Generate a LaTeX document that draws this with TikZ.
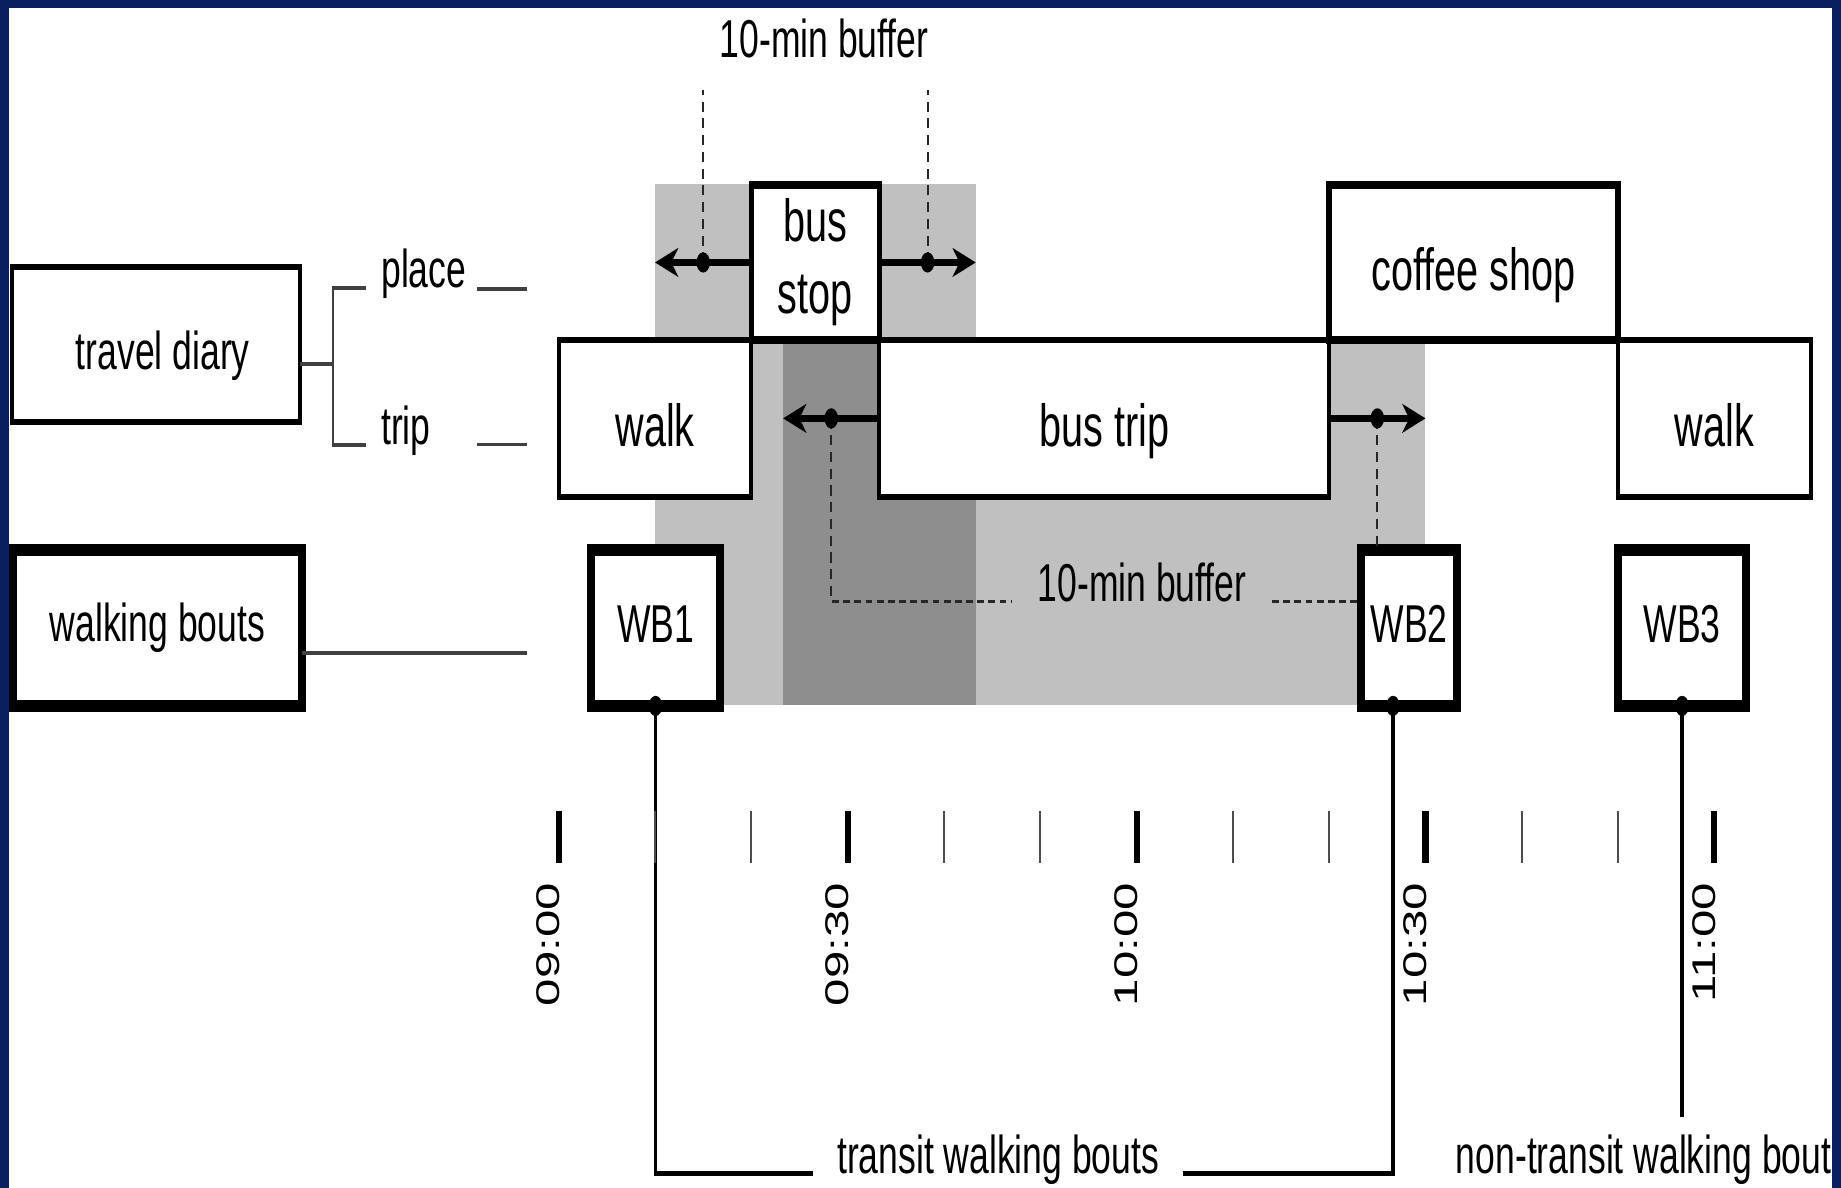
\documentclass[tikz,border=0pt]{standalone}
\usepackage{fontspec}
\setmainfont{Liberation Sans}
\usetikzlibrary{arrows.meta,calc}

\definecolor{framenavy}{RGB}{10,31,96}
\definecolor{buflight}{RGB}{192,192,192}
\definecolor{bufdark}{RGB}{142,142,142}

\tikzset{
  lbl/.style={font=\fontsize{10.5}{12.6}\selectfont},
  rowbox/.style={draw,fill=white,inner sep=0pt,outer sep=0pt,
    font=\fontsize{11.7}{14.2}\selectfont,align=center},
  lowtext/.style={text height=10.9pt,text depth=0pt},
  tripbox/.style={rowbox,line width=1.2pt,minimum height=1.0867cm,lowtext},
  placebox/.style={rowbox,line width=1.6pt,minimum height=1.0727cm},
  diarybox/.style={draw,fill=white,line width=1.3pt,inner sep=0pt,outer sep=0pt,
    minimum height=1.0733cm,minimum width=2.99cm,lbl,text height=10pt,text depth=0pt},
  boutbox/.style={draw,fill=white,line width=2.5pt,inner sep=0pt,outer sep=0pt,
    minimum height=1.08cm,lbl},
  wbtext/.style={text height=7.7pt,text depth=1.9pt},
  bufarrow/.style={line width=1.4pt,-{Stealth[length=6.8pt,width=5.6pt,inset=2pt]}},
  bufdash/.style={line width=0.6pt,dash pattern=on 2pt off 1.3pt,black!85},
  link/.style={line width=1pt},
  thinlink/.style={line width=0.7pt,black!75},
  timelbl/.style={font=\fontsize{9.7}{11}\selectfont,rotate=90,anchor=east,inner sep=0pt}
}

\begin{document}
\begin{tikzpicture}
  \useasboundingbox (0,0) rectangle (19.117,12.336);
  \fill[white] (0,0) rectangle (19.117,12.336);

  % whole diagram is stretched upwards, x: 1 unit = 10 min after 09:00
  \begin{scope}[transform canvas={yscale=1.5},shift={(5.802,0)},y=0.6667cm]

    % 10-min buffers
    \coordinate (buf1sw) at (1,5.016);
    \coordinate (buf1ne) at (4.33,10.42);
    \coordinate (buf2sw) at (2.33,5.016);
    \coordinate (buf2ne) at (9,8.806);
    \fill[buflight] (buf1sw) rectangle (buf1ne);
    \fill[buflight] (buf2sw) rectangle (buf2ne);
    \fill[bufdark] (buf2sw) rectangle (buf1ne |- buf2ne);

    % diary entries
    \node[tripbox,minimum width=2cm] (walkA) at (1,7.991) {walk};
    \node[placebox,minimum width=1.33cm] (busstop) at (2.665,9.61) {bus\\stop};
    \node[tripbox,minimum width=4.67cm] (bustrip) at (5.665,7.991) {bus trip};
    \node[placebox,lowtext,minimum width=3cm] (coffee) at (9.5,9.61) {coffee shop};
    \node[tripbox,minimum width=2cm] (walkB) at (12,7.991) {walk};

    % walking bouts
    \node[boutbox,wbtext,minimum width=1.34cm] (wb1) at (1.005,5.815) {WB1};
    \node[boutbox,wbtext,minimum width=1cm] (wb2) at (8.83,5.815) {WB2};
    \node[boutbox,wbtext,minimum width=1.33cm] (wb3) at (11.665,5.815) {WB3};

    % buffer arrows
    \draw[bufarrow] (busstop.west) -- coordinate (dotA) (busstop.west -| buf1sw);
    \draw[bufarrow] (busstop.east) -- coordinate (dotB) (busstop.east -| buf1ne);
    \draw[bufarrow] (bustrip.west) -- coordinate (dotC) (bustrip.west -| buf2sw);
    \draw[bufarrow] (bustrip.east) -- coordinate (dotD) (bustrip.east -| buf2ne);

    \node[lbl,inner ysep=0.21cm] (topbuf) at (2.755,11.931) {10-min buffer};
    \draw[bufdash] (dotA) -- (dotA |- topbuf.south);
    \draw[bufdash] (dotB) -- (dotB |- topbuf.south);

    \node[lbl,anchor=base,inner xsep=0.26cm] (midbuf) at (6.057,6.09) {10-min buffer};
    \draw[bufdash] (dotC) |- (midbuf.base west);
    \draw[bufdash] (midbuf.base east) -- (midbuf.base east -| wb2.west);
    \draw[bufdash] (dotD) -- (dotD |- wb2.north);

    \foreach \d in {dotA,dotB,dotC,dotD}
      \fill (\d) circle[radius=0.07cm];

    % transit / non-transit
    \node[lbl,anchor=base,inner xsep=0.24cm] (transit) at (4.563,0.15) {transit walking bouts};
    \node[lbl,anchor=base west,inner xsep=0pt] (nontransit) at (9.309,0.15) {non-transit walking bout};
    \coordinate (wb2foot) at ($(wb2.south west)!0.333!(wb2.south east)$);
    \draw[link] (wb1.south) |- (transit.base west);
    \draw[link] (wb2foot) |- (transit.base east);
    \draw[link] (wb3.south) -- (wb3.south |- nontransit.north);
    \foreach \d in {wb1.south,wb2foot,wb3.south}
      \fill (\d) circle[radius=0.07cm];

    % time axis
    \foreach \t in {1,2,4,5,7,8,10,11}
      \draw[line width=0.6pt,black!70] (\t,3.375) -- (\t,3.915);
    \foreach \t/\hm in {0/09:00,3/09:30,6/10:00,9/10:30,12/11:00}{
      \draw[line width=1.8pt] (\t,3.375) -- (\t,3.915);
      \node[timelbl] (time\t) at (\t-0.11,3.178) {\hm};
    }

    % legend on the left
    \node[diarybox] (diary) at (-4.1815,8.759) {\hspace*{0.14cm}travel diary};
    \node[boutbox,minimum width=3cm] (bouts) at (-4.1665,5.815) {walking bouts};
    \node[lbl,anchor=base west,inner xsep=0.15cm] (placelab) at (-2,9.346) {place};
    \node[lbl,anchor=base west,inner xsep=0.15cm] (triplab) at (-2,7.716) {trip};
    \coordinate (fork) at (-2.343,8.553);
    \draw[thinlink] (diary.east |- fork) -- (fork);
    \draw[thinlink] (placelab.base west) -| (fork) |- (triplab.base west);

    \coordinate (placeA) at (-0.85,9.335);
    \coordinate (placeB) at (-0.33,9.335);
    \coordinate (tripA) at (-0.85,7.72);
    \coordinate (tripB) at (-0.33,7.72);
    \coordinate (boutsend) at (-0.33,5.556);
    \draw[thinlink] (placeA) -- (placeB);
    \draw[thinlink] (tripA) -- (tripB);
    \draw[thinlink] (bouts.east |- boutsend) -- (boutsend);
  \end{scope}

  % frame
  \fill[framenavy] (0,0) rectangle (0.093,12.336);
  \fill[framenavy] (0,12.253) rectangle (19.117,12.336);
  \fill[framenavy] (19.024,0) rectangle (19.117,12.336);
\end{tikzpicture}
\end{document}
